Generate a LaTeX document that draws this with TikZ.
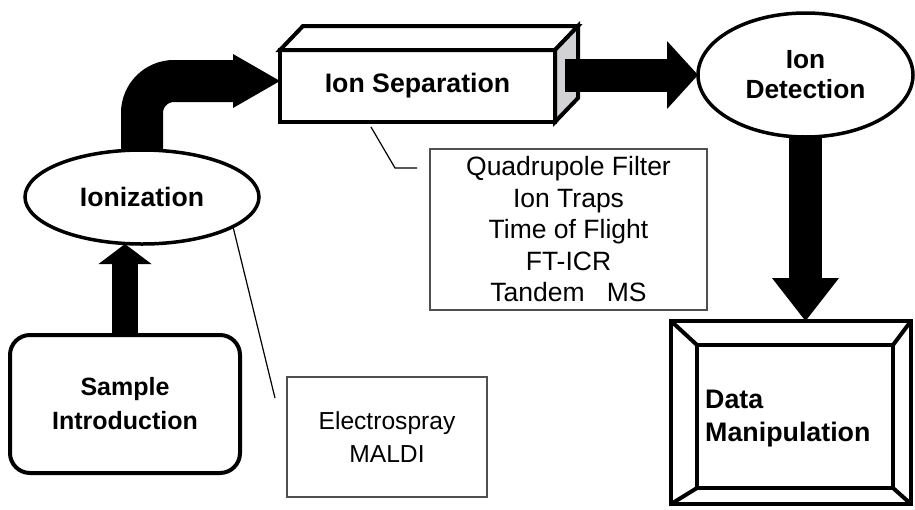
\documentclass[tikz,border=0pt]{standalone}
\usepackage{fontspec}
\setmainfont{Liberation Sans}
\usepackage{tikz}
\usetikzlibrary{arrows.meta}
\usetikzlibrary{shapes.geometric,positioning}
\definecolor{notegray}{RGB}{80,80,80}
\definecolor{facegray}{RGB}{210,210,212}
\tikzset{
    % bold outlined stages
    stageoval/.style={
        ellipse,
        draw,
        line width=3.5pt,
        fill=white,
        inner sep=0pt,
        outer sep=0pt,
        align=center
    },
    stagebox/.style={
        draw,
        line width=4pt,
        fill=white,
        inner sep=0pt,
        outer sep=0pt,
        align=center
    },
    % thin grey boxes with examples
    notebox/.style={
        draw=notegray,
        line width=1.4pt,
        inner sep=0pt,
        outer sep=0pt,
        align=center
    },
    notelink/.style={
        line width=1.2pt,
        black
    },
    % fat black arrows: shaft width, tip length, tip width
    blockarrow/.style n args={3}{
        line width=#1,
        black,
        -{Triangle[length=#2, width=#3, line width=0pt]}
    }
}

\begin{document}
\begin{tikzpicture}[x=1pt,y=-1pt]
\useasboundingbox (0,0) rectangle (915,509);

% ===================== stages =====================
\node[stagebox, rounded corners=20pt, minimum width=230pt, minimum height=138pt,
      font=\fontsize{25}{34}\selectfont\bfseries] (samp) at (125,404) {Sample\\Introduction};
\node[stageoval, minimum width=234pt, minimum height=94pt,
      font=\fontsize{26.6}{30}\selectfont\bfseries] (ion) at (142,197) {Ionization};
\node[stagebox, minimum width=275pt, minimum height=72pt,
      font=\fontsize{26.7}{30}\selectfont\bfseries] (sep) at (417.5,86) {Ion Separation};
\node[stageoval, minimum width=215pt, minimum height=124pt,
      font=\fontsize{26.3}{30}\selectfont\bfseries] (det) at (805.5,75) {Ion\\Detection};

% prism faces of the separation box
\draw[line width=4pt, fill=white] (sep.north west) -- ++(23,-24) -- ++(275,0) -- (sep.north east) -- cycle;
\draw[line width=4pt, fill=facegray] (sep.north east) -- ++(23,-24) -- ++(0,72) -- (sep.south east) -- cycle;

% framed data box
\node[stagebox, line width=4.5pt, minimum width=240pt, minimum height=183pt] (data) at (791,412.5) {};
\node[stagebox, minimum width=196pt, minimum height=143pt] (datain) at (795,416.5) {};
\draw[line width=4pt]
    (data.north west) -- (datain.north west)
    (data.north east) -- (datain.north east)
    (data.south west) -- (datain.south west)
    (data.south east) -- (datain.south east);
\node[anchor=west, align=left, inner sep=0pt,
      font=\fontsize{26.8}{33}\selectfont\bfseries] (datatxt) at ([xshift=8pt,yshift=-2.5pt]datain.west) {Data\\Manipulation};

% ===================== notes =====================
\node[notebox, minimum width=277pt, minimum height=161pt,
      font=\fontsize{26.5}{31.5}\selectfont] (sepnote) at (568.5,229.5)
      {Quadrupole Filter\\Ion Traps\\Time of Flight\\FT-ICR\\Tandem\ \ \ MS};
\node[notebox, minimum width=200pt, minimum height=120pt,
      font=\fontsize{24.6}{33}\selectfont] (ionnote) at (387,437) {Electrospray\\MALDI};

\coordinate (ionlink) at (275,398);
\coordinate (seplink) at (371,127);
\draw[notelink] (ion.-18) -- (ionlink);
\draw[notelink] (seplink) -- ++(24,41) -- ++(22,0);

% ===================== arrows =====================
\coordinate (sepout) at (565,75);
\draw[blockarrow={26pt}{20pt}{53pt}] (samp.north) -- (samp.north |- ion.south);
\draw[blockarrow={42pt}{47pt}{54pt}, rounded corners=32pt] (ion.north) |- ([yshift=5pt]sep.west);
\draw[blockarrow={33pt}{31pt}{68pt}] (sepout) -- (det.west);
\draw[blockarrow={33pt}{43pt}{67pt}] (det.south) -- (det.south |- data.north);

\end{tikzpicture}
\end{document}
